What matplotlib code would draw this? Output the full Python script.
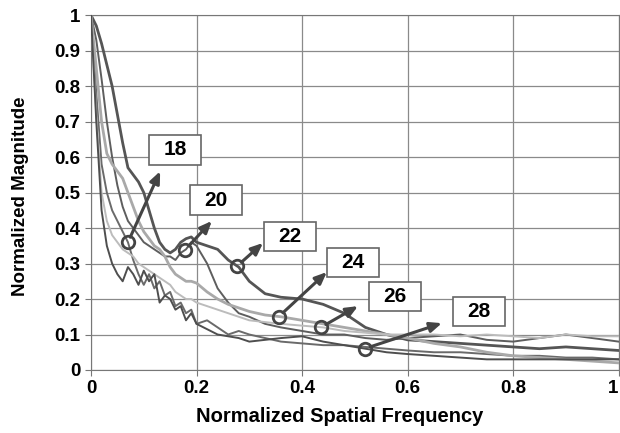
import numpy as np
import matplotlib
matplotlib.use("Agg")
import matplotlib.pyplot as plt
from matplotlib.patches import Rectangle

freq = [0, .01, .02, .03, .04, .05, .06, .07, .08, .09, .10, .11, .12, .13, .14,
        .15, .16, .17, .18, .19, .20, .22, .24, .26, .28, .30, .33, .36, .40, .44,
        .48, .52, .56, .60, .65, .70, .75, .80, .85, .90, .95, 1.0]

mag_18 = [1.00, .78, .58, .50, .45, .42, .39, .36, .31, .27, .24, .27, .23, .25, .21,
          .22, .18, .19, .16, .17, .13, .14, .12, .10, .11, .10, .09, .08, .075, .07,
          .07, .065, .06, .055, .05, .05, .045, .04, .04, .035, .035, .03]
mag_20 = [1.00, .93, .82, .70, .60, .52, .46, .42, .40, .38, .36, .35, .34, .33, .32,
          .32, .31, .33, .34, .36, .35, .30, .23, .19, .16, .15, .13, .12, .11, .10,
          .10, .09, .085, .09, .095, .10, .085, .08, .09, .10, .09, .08]
mag_22 = [1.00, .97, .92, .86, .80, .72, .64, .57, .55, .53, .50, .45, .40, .36, .34,
          .33, .34, .36, .37, .375, .36, .35, .34, .31, .29, .25, .215, .205, .20, .185,
          .16, .12, .10, .085, .08, .075, .07, .065, .06, .065, .06, .055]
mag_24 = [1.00, .85, .70, .61, .58, .56, .54, .50, .46, .42, .39, .37, .35, .34, .32,
          .29, .27, .26, .25, .25, .245, .22, .20, .185, .175, .165, .155, .15, .14, .13,
          .12, .11, .10, .09, .075, .065, .05, .04, .035, .03, .025, .02]
mag_26 = [1.00, .72, .50, .42, .38, .36, .34, .33, .32, .30, .29, .28, .27, .26, .25,
          .24, .22, .21, .20, .20, .19, .18, .17, .16, .15, .14, .135, .13, .125, .12,
          .11, .105, .10, .10, .10, .095, .10, .095, .09, .10, .095, .095]
mag_28 = [1.00, .70, .45, .35, .30, .27, .25, .29, .27, .24, .28, .25, .27, .19, .21,
          .20, .17, .18, .14, .16, .13, .115, .10, .095, .09, .08, .085, .09, .095, .08,
          .07, .06, .05, .045, .04, .035, .03, .03, .03, .03, .03, .03]

labels = ["18", "20", "22", "24", "26", "28"]
series = [mag_18, mag_20, mag_22, mag_24, mag_26, mag_28]
marker_x = [0.07, 0.178, 0.277, 0.356, 0.436, 0.519]
arrow_tip = [(0.131, 0.56), (0.229, 0.42), (0.326, 0.358),
             (0.447, 0.276), (0.506, 0.18), (0.665, 0.132)]
box_center = [(0.159, 0.62), (0.237, 0.479), (0.377, 0.377),
              (0.496, 0.304), (0.576, 0.208), (0.735, 0.166)]

colors = ["#6a6a6a", "#5e5e5e", "#555555", "#a9a9a9", "#bcbcbc", "#4e4e4e"]
widths = [1.4, 1.4, 2.0, 2.0, 1.4, 1.4]

plt.rcParams['font.family'] = ['Liberation Sans', 'DejaVu Sans']
fig = plt.figure(figsize=(6.2, 4.33), dpi=100)
ax = fig.add_axes([0.1468, 0.1455, 0.851, 0.8195])

for y, c, w in zip(series, colors, widths):
    ax.plot(freq, y, color=c, lw=w, zorder=3)

# circled points with arrows pointing to the boxed labels
for i in range(len(labels)):
    mx = marker_x[i]
    my = np.interp(mx, freq, series[i])
    ax.annotate("", xy=arrow_tip[i], xytext=(mx, my),
                arrowprops=dict(arrowstyle="-|>,head_length=0.7,head_width=0.3",
                                color="#444444", lw=2.2, shrinkA=4, shrinkB=0),
                zorder=5)
    ax.plot(mx, my, 'o', ms=9, mfc='none', mec="#444444", mew=2, zorder=6)
    bx, by = box_center[i]
    ax.add_patch(Rectangle((bx - 0.0492, by - 0.041), 0.0985, 0.082,
                           fill=True, fc='white', ec='#666666', lw=1.2, zorder=4))
    ax.text(bx, by, labels[i], ha='center', va='center', fontsize=15,
            fontweight='bold', zorder=5)

ax.set_xlim(0, 1)
ax.set_ylim(0, 1)
ax.set_xticks(np.arange(0, 1.01, 0.2))
ax.set_yticks(np.arange(0, 1.01, 0.1))
ax.set_xticklabels(["0", "0.2", "0.4", "0.6", "0.8", "1"])
ax.set_yticklabels(["0", "0.1", "0.2", "0.3", "0.4", "0.5", "0.6", "0.7", "0.8", "0.9", "1"])
ax.grid(True, color="#8a8a8a", lw=0.9)
ax.set_axisbelow(True)
for s in ax.spines.values():
    s.set_color("#777777")
ax.tick_params(colors="#777777", labelcolor="black", length=4, labelsize=13.5)
for t in ax.get_xticklabels() + ax.get_yticklabels():
    t.set_fontweight('bold')
ax.get_xticklabels()[-1].set_ha('right')
ax.set_xlabel("Normalized Spatial Frequency", fontsize=14.5, fontweight='bold')
ax.xaxis.set_label_coords(0.472, -0.105)
ax.set_ylabel("Normalized Magnitude", fontsize=13.5, fontweight='bold')
ax.yaxis.set_label_coords(-0.118, 0.49)

fig.savefig("out.png", dpi=100)
